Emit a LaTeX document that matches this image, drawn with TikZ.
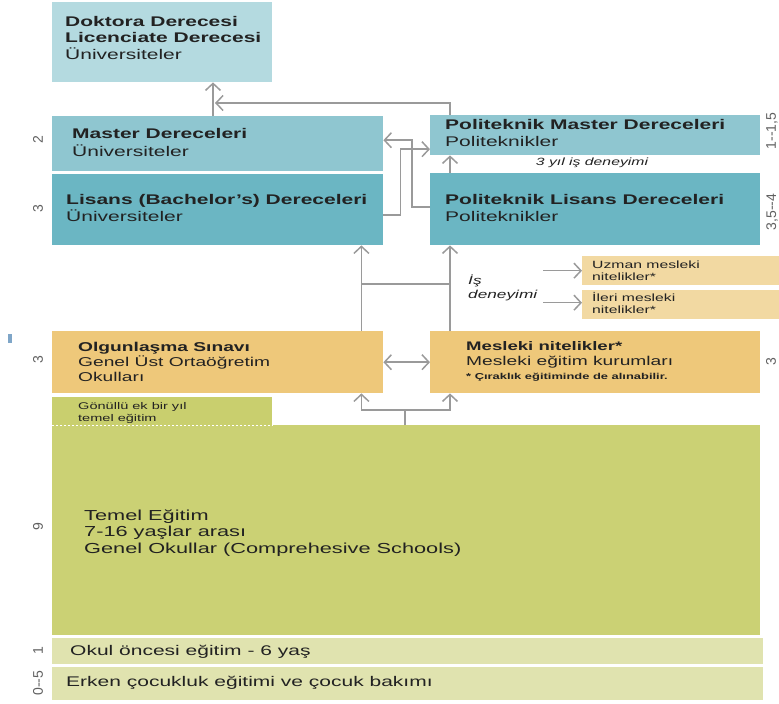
\documentclass[tikz,border=0pt]{standalone}
\usepackage{fontspec}
\setmainfont{Liberation Sans}[FakeStretch=1.5]
\newfontfamily\numfont{Liberation Sans}
\usetikzlibrary{arrows.meta,calc}
\definecolor{cdok}{HTML}{B4DAE0}
\definecolor{cmas}{HTML}{8FC6D0}
\definecolor{clis}{HTML}{6BB6C3}
\definecolor{clor}{HTML}{F2D9A2}
\definecolor{cor}{HTML}{EEC87A}
\definecolor{cgon}{HTML}{C9CF6E}
\definecolor{ctem}{HTML}{CBD174}
\definecolor{cpre}{HTML}{E0E3AF}
\definecolor{cline}{HTML}{9A9A9A}
\definecolor{ctxt}{HTML}{222222}
\definecolor{cnum}{HTML}{606060}
\definecolor{cmark}{HTML}{7FA6C8}
\tikzset{
  box/.style={rectangle, draw=none, inner sep=0pt, anchor=north west},
  txt/.style={anchor=west, inner sep=0pt, align=left, text=ctxt},
  conn/.style={draw=cline, line width=1.5pt, arrows={-Straight Barb[length=7pt,width=15pt]}},
  plain/.style={draw=cline, line width=1.5pt},
  num/.style={font=\numfont\fontsize{14}{16}\selectfont, text=cnum, rotate=90, inner sep=0pt}
}
\begin{document}
\begin{tikzpicture}[x=1pt,y=-1pt]
\useasboundingbox (0,0) rectangle (779,704);
% boxes
\node[box, fill=cdok, minimum width=220pt, minimum height=80pt] (dok) at (52,2) {};
\node[box, fill=cmas, minimum width=331pt, minimum height=55pt] (master) at (52,116) {};
\node[box, fill=clis, minimum width=331pt, minimum height=71pt] (lisans) at (52,174) {};
\node[box, fill=cmas, minimum width=330pt, minimum height=40pt] (pmaster) at (430,115) {};
\node[box, fill=clis, minimum width=330pt, minimum height=72pt] (plisans) at (430,173) {};
\node[box, fill=clor, minimum width=197pt, minimum height=29pt] (uzman) at (582,256) {};
\node[box, fill=clor, minimum width=197pt, minimum height=29pt] (ileri) at (582,290) {};
\node[box, fill=cor, minimum width=331pt, minimum height=62pt] (olg) at (52,331) {};
\node[box, fill=cor, minimum width=330pt, minimum height=62pt] (mes) at (430,331) {};
\node[box, fill=cgon, minimum width=220pt, minimum height=28pt] (gon) at (52,397) {};
\node[box, fill=ctem, minimum width=708pt, minimum height=210pt] (temel) at (52,425) {};
\node[box, fill=cpre, minimum width=711pt, minimum height=26pt] (okul) at (52,638) {};
\node[box, fill=cpre, minimum width=711pt, minimum height=33pt] (erken) at (52,667) {};
\draw[white, line width=1pt, dash pattern=on 2pt off 2pt] (gon.south west) -- (gon.south east);
% small mark
\fill[cmark] (8,334) rectangle (12,343);
% texts
\node[txt, font=\fontsize{14}{16.5}\selectfont] (tdok) at (65,37.5) {\textbf{Doktora Derecesi}\\\textbf{Licenciate Derecesi}\\Üniversiteler};
\node[txt, font=\fontsize{14}{18}\selectfont] (tmas) at (72,142) {\textbf{Master Dereceleri}\\Üniversiteler};
\node[txt, font=\fontsize{14}{17}\selectfont] (tlis) at (66,207.5) {\textbf{Lisans (Bachelor’s) Dereceleri}\\Üniversiteler};
\node[txt, font=\fontsize{14}{17}\selectfont] (tpm) at (445,132.5) {\textbf{Politeknik Master Dereceleri}\\Politeknikler};
\node[txt, font=\fontsize{14}{17}\selectfont] (tpl) at (445,207.5) {\textbf{Politeknik Lisans Dereceleri}\\Politeknikler};
\node[txt, anchor=center, font=\itshape\fontsize{10.5}{12}\selectfont] (t3yil) at (592,163) {3 yıl iş deneyimi};
\node[txt, font=\fontsize{10.5}{12.5}\selectfont] (tuz) at (592,270.5) {Uzman mesleki\\nitelikler*};
\node[txt, font=\fontsize{10.5}{12.5}\selectfont] (til) at (592,303) {İleri mesleki\\nitelikler*};
\node[txt, font=\itshape\fontsize{11.5}{14}\selectfont] (tis) at (468,288) {İş\\deneyimi};
\node[txt, font=\fontsize{12.8}{15}\selectfont] (tolg) at (78,362) {\textbf{Olgunlaşma Sınavı}\\Genel Üst Ortaöğretim\\Okulları};
\node[txt, font=\fontsize{12.8}{14.5}\selectfont] (tmes) at (466,361.5) {\textbf{\fontsize{12.4}{14.5}\selectfont Mesleki nitelikler*}\\Mesleki eğitim kurumları\\{\bfseries\fontsize{8.6}{10}\selectfont * Çıraklık eğitiminde de alınabilir.}};
\node[txt, font=\fontsize{9.7}{12}\selectfont] (tgon) at (78,412.5) {Gönüllü ek bir yıl\\temel eğitim};
\node[txt, font=\fontsize{14.5}{16.5}\selectfont] (ttem) at (84,533) {Temel Eğitim\\7-16 yaşlar arası\\Genel Okullar (Comprehesive Schools)};
\node[txt, font=\fontsize{14}{16}\selectfont] (tok) at (70,652) {Okul öncesi eğitim - 6 yaş};
\node[txt, font=\fontsize{14}{16}\selectfont] (ter) at (66,683) {Erken çocukluk eğitimi ve çocuk bakımı};
% numbers
\node[num] (n1) at (38,140) {2};
\node[num] (n2) at (38,209) {3};
\node[num] (n3) at (38,360) {3};
\node[num] (n4) at (38,527) {9};
\node[num] (n5) at (38,651) {1};
\node[num] (n6) at (38,683) {0--5};
\node[num] (n7) at (772,131) {1--1,5};
\node[num] (n8) at (772,212) {3,5--4};
\node[num] (n9) at (771,362) {3};
% connectors
\draw[conn] ([xshift=161pt]master.north west) -- ([xshift=161pt]dok.south west);
\draw[conn] ([xshift=20pt]pmaster.north west) |- ([xshift=163pt,yshift=13pt]master.north west);
\draw[conn] ([yshift=2pt]plisans.west) -- ++(-18,0) |- ([yshift=3.5pt]master.east);
\draw[conn] ([yshift=-5.5pt]lisans.east) -- ++(17,0) |- ([yshift=-14pt]pmaster.west);
\draw[conn] ([xshift=20pt]plisans.north west) -- ([xshift=20pt]pmaster.south west);
\draw[conn] ([xshift=-22pt]olg.north east) -- ([xshift=-22pt]lisans.south east);
\draw[conn] ([xshift=20pt]mes.north west) -- ([xshift=20pt]plisans.south west);
\draw[plain] ([xshift=-22pt,yshift=47pt]olg.north east) -- ([xshift=20pt,yshift=47pt]mes.north west);
\draw[conn, arrows={Straight Barb[length=7pt,width=15pt]-Straight Barb[length=7pt,width=15pt]}] (olg.east) -- (mes.west);
\coordinate (split) at ([xshift=353pt,yshift=15pt]temel.north west);
\draw[plain] ([xshift=353pt]temel.north west) -- (split);
\draw[conn] (split) -| ([xshift=-22pt]olg.south east);
\draw[conn] (split) -| ([xshift=20pt]mes.south west);
\draw[conn] ([xshift=-39pt]uzman.west) -- (uzman.west);
\draw[conn] ([xshift=-39pt,yshift=2pt]ileri.west) -- ([yshift=2pt]ileri.west);
\end{tikzpicture}
\end{document}
